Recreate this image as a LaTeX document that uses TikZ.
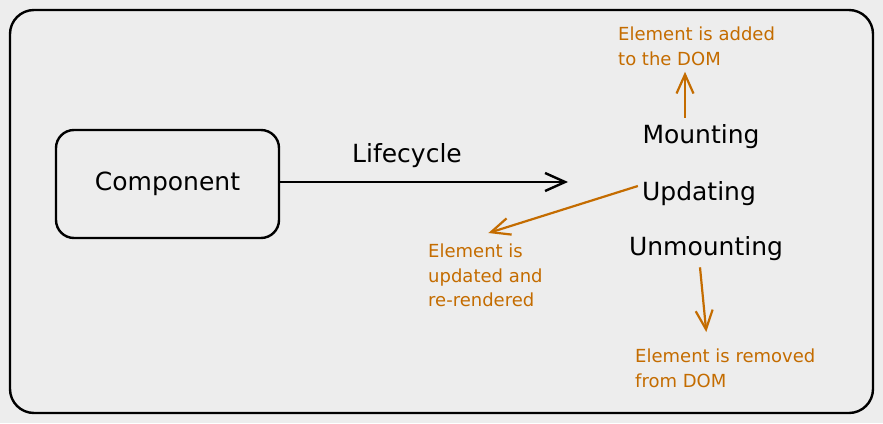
\documentclass[tikz,border=0pt]{standalone}
\usepackage{fontspec}
\setmainfont{DejaVu Sans}
\usetikzlibrary{arrows.meta}
\definecolor{bgcol}{RGB}{237,237,237}
\definecolor{notecol}{RGB}{196,108,0}
\begin{document}
\begin{tikzpicture}[x = 1pt, y = -1pt,
        label/.style = {font = \fontsize{25}{29}\selectfont, inner sep = 1pt},
        note/.style = {font = \fontsize{18}{24.5}\selectfont, text = notecol, align = left, inner sep = 1pt},
        flow/.style = {line width = 2.4pt, -{Straight Barb[length = 20pt, width = 18pt, line width = 2.4pt]}},
        noteflow/.style = {draw = notecol, line width = 2.2pt, -{Straight Barb[length = 19pt, width = 17pt, line width = 2.2pt]}}]
    \fill[bgcol] (0, 0) rectangle (883, 423);
    \useasboundingbox (0, 0) rectangle (883, 423);
    \draw[line width = 2.4pt, rounded corners = 24pt] (10, 10) rectangle (873, 413);

    \node[label, draw, line width = 2.4pt, rounded corners = 18pt, minimum width = 223pt, minimum height = 108pt] (comp) at (167.5, 184){Component};
    \coordinate (lifeEnd) at (568, 182);
    \node[label] (life) at (407, 156){Lifecycle};

    \node[label] (mount) at (701, 137){Mounting};
    \node[label] (upd) at (699, 194){Updating};
    \node[label] (unmount) at (706, 249){Unmounting};

    \node[note, anchor = north west] (added) at (617, 26){Element is added\\to the DOM};
    \node[note, anchor = north west] (updtxt) at (427, 243){Element is\\updated and\\re-rendered};
    \node[note, anchor = north west] (removed) at (634, 348){Element is removed\\from DOM};

    \draw[flow] (comp.east |- lifeEnd) -- (lifeEnd);
    \draw[noteflow, shorten > = 5pt] ([xshift = -16pt, yshift = 6pt]mount.north) coordinate (m1) -- (m1 |- added.south);
    \draw[noteflow] ([xshift = -3pt, yshift = 8pt]upd.west) -- ([xshift = 3pt, yshift = 10pt]updtxt.north);
    \draw[noteflow] ([xshift = -6pt, yshift = -5pt]unmount.south) -- ([xshift = -19pt, yshift = 16pt]removed.north);
\end{tikzpicture}
\end{document}
